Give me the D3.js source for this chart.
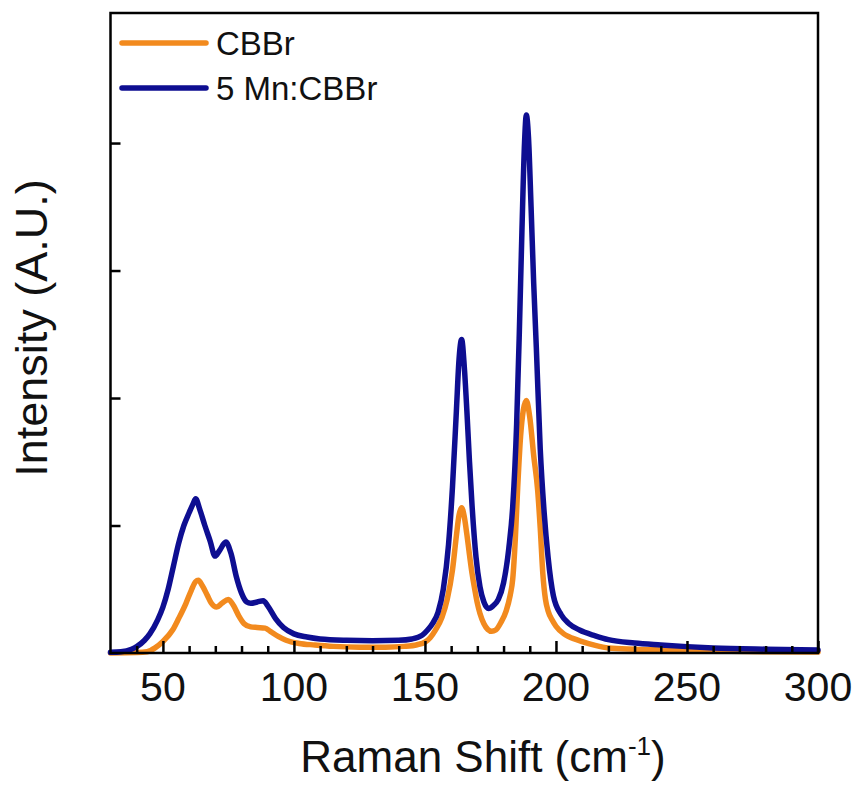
<!DOCTYPE html>
<html>
<head>
<meta charset="utf-8">
<script src="https://cdn.jsdelivr.net/npm/d3@7/dist/d3.min.js"></script>
<style>
  html, body { margin: 0; padding: 0; background: #ffffff; }
  svg { display: block; font-family: "Liberation Sans", Arial, sans-serif; }
</style>
</head>
<body>
<div id="chart"></div>
<script>

// Raman shift (cm-1) and intensity (A.U.)
var cbbrShift = [30, 40, 44, 47, 50, 53.7, 56, 58.8, 60.8, 62.5, 63.5, 65, 67, 68.5, 70.5, 72.5, 75, 77, 79, 81, 83.5, 86, 89, 91, 94, 97, 102, 108, 115, 125, 135, 142, 147, 150, 152, 154, 156.5, 158.5, 160.5, 162, 163, 164, 165, 166, 167, 168, 169, 170, 171, 172.5, 174, 175.5, 177, 179, 181, 182.5, 183.5, 184.5, 185.4, 186.5, 187.5, 188.7, 190, 191.5, 193, 194, 195, 196, 197, 198.5, 200, 203, 205, 210, 215, 220, 230, 240, 260, 280, 300];
var cbbrIntensity = [0, 0.003, 0.01, 0.04, 0.09, 0.18, 0.27, 0.39, 0.49, 0.56, 0.57, 0.53, 0.45, 0.39, 0.36, 0.39, 0.42, 0.37, 0.29, 0.23, 0.205, 0.2, 0.195, 0.17, 0.13, 0.1, 0.075, 0.063, 0.052, 0.046, 0.046, 0.052, 0.065, 0.085, 0.12, 0.18, 0.28, 0.42, 0.65, 0.92, 1.08, 1.14, 1.07, 0.93, 0.77, 0.62, 0.5, 0.39, 0.31, 0.23, 0.185, 0.17, 0.18, 0.24, 0.33, 0.45, 0.58, 0.9, 1.3, 1.7, 1.9, 1.98, 1.85, 1.55, 1.28, 0.98, 0.62, 0.42, 0.33, 0.26, 0.21, 0.15, 0.128, 0.09, 0.06, 0.04, 0.03, 0.024, 0.015, 0.01, 0.008];

var mnShift = [30, 34, 38, 40, 43, 45, 48, 50, 52, 54, 56, 58, 60, 61.5, 62.5, 64, 66, 68, 69.9, 71.5, 74, 76, 78, 80, 82, 83.5, 86, 88.3, 90, 93, 96, 100, 105, 110, 120, 130, 140, 145, 149, 151, 153, 155, 157, 159, 160.5, 162, 163, 164, 165, 166, 167, 168, 169.5, 171, 172.5, 174.3, 176, 178, 180, 182, 183.5, 185, 186, 187, 188, 188.7, 189.5, 190.5, 191.5, 192.5, 194, 195.5, 197, 199, 202, 205, 209, 215, 220, 230, 240, 250, 260, 280, 300];
var mnIntensity = [0.005, 0.01, 0.03, 0.05, 0.1, 0.15, 0.26, 0.36, 0.5, 0.68, 0.86, 1.0, 1.1, 1.17, 1.21, 1.13, 1.0, 0.88, 0.76, 0.8, 0.87, 0.78, 0.6, 0.47, 0.4, 0.39, 0.4, 0.41, 0.37, 0.27, 0.2, 0.15, 0.125, 0.11, 0.1, 0.097, 0.1, 0.11, 0.14, 0.18, 0.235, 0.32, 0.5, 0.85, 1.3, 1.9, 2.3, 2.46, 2.25, 1.9, 1.5, 1.15, 0.75, 0.52, 0.4, 0.35, 0.37, 0.42, 0.55, 0.82, 1.15, 1.8, 2.5, 3.3, 4.0, 4.22, 4.05, 3.5, 2.9, 2.4, 1.6, 1.1, 0.75, 0.45, 0.3, 0.23, 0.18, 0.135, 0.105, 0.078, 0.063, 0.05, 0.04, 0.03, 0.024];

var seriesNames = ["CBBr", "5 Mn:CBBr"];
var seriesColors = ["#f28a1e", "#0e0e91"];
var xTickValues = [50, 100, 150, 200, 250, 300];
var xMinorValues = [40, 60, 70, 80, 90, 110, 120, 130, 140, 160, 170, 180, 190, 210, 220, 230, 240, 260, 270, 280, 290];
var yTickValues = [1, 2, 3, 4];

var width = 859, height = 792;
var margin = { left: 110.5, right: 41, top: 13, bottom: 139 };

var svg = d3.select("#chart")
	.append("svg")
	.attr("width", width)
	.attr("height", height);

svg.append("rect")
	.attr("width", width).attr("height", height)
	.attr("fill", "#ffffff");

var x = d3.scaleLinear()
	.domain([30, 300])
	.range([margin.left, width - margin.right]);

var y = d3.scaleLinear()
	.domain([0, 5.02])
	.range([height - margin.bottom, margin.top]);

var series = [
	{ name: seriesNames[0], color: seriesColors[0], data: d3.zip(cbbrShift, cbbrIntensity) },
	{ name: seriesNames[1], color: seriesColors[1], data: d3.zip(mnShift, mnIntensity) }
];

var line = d3.line()
	.x(function(d) { return x(d[0]); })
	.y(function(d) { return y(d[1]); })
	.curve(d3.curveMonotoneX);

var g = svg.append("g");

g.selectAll("path.series")
	.data(series)
	.enter()
	.append("path")
	.attr("class", "series")
	.attr("d", function(d) { return line(d.data); })
	.attr("fill", "none")
	.attr("stroke", function(d) { return d.color; })
	.attr("stroke-width", 5.5)
	.attr("stroke-linejoin", "round")
	.attr("stroke-linecap", "round");

// inward ticks
var xAxis = d3.axisBottom(x).tickValues(xTickValues).tickSizeInner(-12).tickSizeOuter(0).tickFormat("");
var xMinor = d3.axisBottom(x).tickValues(xMinorValues).tickSizeInner(-7).tickSizeOuter(0).tickFormat("");
var yAxis = d3.axisLeft(y).tickValues(yTickValues).tickSizeInner(-10).tickSizeOuter(0).tickFormat("");

[xAxis, xMinor].forEach(function(a) {
	svg.append("g")
		.attr("transform", "translate(0," + y(0) + ")")
		.call(a)
		.call(function(s) {
			s.select(".domain").remove();
			s.selectAll("line").attr("stroke", "#000").attr("stroke-width", 2.5);
		});
});

svg.append("g")
	.attr("transform", "translate(" + x(30) + ",0)")
	.call(yAxis)
	.call(function(s) {
		s.select(".domain").remove();
		s.selectAll("line").attr("stroke", "#000").attr("stroke-width", 2.5);
	});

svg.append("rect")
	.attr("x", x(30)).attr("y", y(5.02))
	.attr("width", x(300) - x(30)).attr("height", y(0) - y(5.02))
	.attr("fill", "none")
	.attr("stroke", "#000")
	.attr("stroke-width", 2.5);

svg.selectAll("text.xtick")
	.data(xTickValues)
	.enter()
	.append("text")
	.attr("class", "xtick")
	.attr("x", function(d) { return x(d); })
	.attr("y", 701)
	.attr("text-anchor", "middle")
	.style("font-size", "41px")
	.attr("fill", "#111")
	.text(function(d) { return d; });

var xl = svg.append("text")
	.attr("x", 483).attr("y", 772)
	.attr("text-anchor", "middle")
	.style("font-size", "44px")
	.attr("fill", "#111");
xl.append("tspan").text("Raman Shift (cm");
xl.append("tspan").attr("dy", -17).style("font-size", "26px").text("-1");
xl.append("tspan").attr("dy", 17).text(")");

svg.append("text")
	.attr("transform", "translate(47,328) rotate(-90)")
	.attr("text-anchor", "middle")
	.style("font-size", "45px")
	.attr("fill", "#111")
	.text("Intensity (A.U.)");

// legend
var legend = svg.selectAll("g.legend")
	.data(series)
	.enter()
	.append("g")
	.attr("class", "legend")
	.attr("transform", function(d, i) { return "translate(0," + (43 + i * 45) + ")"; });

legend.append("line")
	.attr("x1", 122).attr("x2", 206)
	.attr("stroke", function(d) { return d.color; })
	.attr("stroke-width", 5.5)
	.attr("stroke-linecap", "round");

legend.append("text")
	.attr("x", 216).attr("y", 12)
	.style("font-size", "33px")
	.attr("fill", "#111")
	.text(function(d) { return d.name; });

</script>
</body>
</html>
